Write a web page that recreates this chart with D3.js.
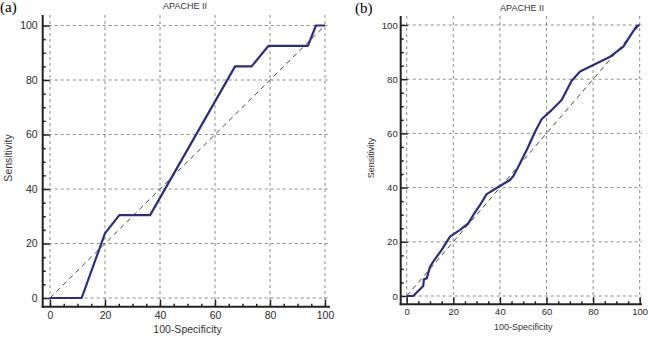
<!DOCTYPE html>
<html>
<head>
<meta charset="utf-8">
<script src="https://cdn.jsdelivr.net/npm/d3@7"></script>
<style>
  body { margin: 0; background: #fff; }
  svg { display: block; }
  .tick text { font-family: "Liberation Sans", Arial, sans-serif; fill: #2a2a2a; }
</style>
</head>
<body>
<div id="chart"></div>
<script>
// ROC curve (a) - APACHE II
const rocAx = [0, 11.5, 20, 25.2, 36.4, 67.3, 73.3, 79.4, 93.8, 96.7, 100];
const rocAy = [0, 0, 23.7, 30.4, 30.4, 85, 85, 92.5, 92.5, 100, 100];

// ROC curve (b) - APACHE II
const rocBx = [0, 2.8, 7.1, 7.4, 8.6, 10, 11.4, 15, 18.6, 22.9, 26.4, 28.6, 31.5, 34.3, 40, 44.3,
               45.8, 47.9, 51.5, 55.1, 57.9, 62.2, 66.5, 70.8, 74.4, 80.1, 87.3, 93, 96.6, 98.7, 100];
const rocBy = [0, 0, 3.7, 6.2, 6.5, 10.8, 12.7, 17, 21.9, 24.4, 26.8, 29.9, 33.6, 37.6, 40.6, 42.8,
               44.3, 47.7, 53.9, 60.6, 65.2, 68.6, 72.3, 79.4, 82.8, 85.2, 88.3, 92, 96.9, 99.6, 100];

const majorTicks = [0, 20, 40, 60, 80, 100];
const minorTicks = d3.range(0, 101, 5).filter(v => v % 20 !== 0);

const W = 648, H = 338;
const sans = "'Liberation Sans', Arial, sans-serif";

const svg = d3.select("#chart").append("svg")
  .attr("width", W)
  .attr("height", H);

const panels = [
  { tag: "(a)", xs: rocAx, ys: rocAy,
    xr: [50, 325], yr: [298, 25.5], axX: 42.7, axY: 306.7, xEnd: 330, yTop: 15,
    font: 10.5, pad: 5, padB: 5, titleX: 185, titleY: 8.5, tagX: 0, tagY: 12,
    ylabX: 12, xlabY: 333, labFont: 10.5 },
  { tag: "(b)", xs: rocBx, ys: rocBy,
    xr: [406.7, 639.7], yr: [296, 25], axX: 400.7, axY: 304.3, xEnd: 642, yTop: 16,
    font: 9.5, pad: 3, padB: 4, titleX: 522, titleY: 10.5, tagX: 355, tagY: 13,
    ylabX: 374, xlabY: 330, labFont: 9 }
];

panels.forEach(p => drawPanel(p));

function drawPanel(p) {
  const x = d3.scaleLinear().domain([0, 100]).range(p.xr);
  const y = d3.scaleLinear().domain([0, 100]).range(p.yr);
  const g = svg.append("g");

  // grid
  g.append("g").selectAll("line")
    .data(majorTicks).enter().append("line")
    .attr("x1", d => x(d)).attr("x2", d => x(d))
    .attr("y1", p.yTop).attr("y2", p.axY)
    .attr("stroke", "#8c8c8c").attr("stroke-width", 1)
    .attr("stroke-dasharray", "3,3");
  g.append("g").selectAll("line")
    .data(majorTicks).enter().append("line")
    .attr("x1", p.axX).attr("x2", p.xEnd)
    .attr("y1", d => y(d)).attr("y2", d => y(d))
    .attr("stroke", "#8c8c8c").attr("stroke-width", 1)
    .attr("stroke-dasharray", "3,3");

  // diagonal
  g.append("line")
    .attr("x1", x(0)).attr("y1", y(0))
    .attr("x2", x(100)).attr("y2", y(100))
    .attr("stroke", "#444").attr("stroke-width", 1)
    .attr("stroke-dasharray", "5,4");

  // curve
  const pts = p.xs.map((v, i) => [v, p.ys[i]]);
  g.append("path")
    .datum(pts)
    .attr("fill", "none")
    .attr("stroke", "#2c2c88")
    .attr("stroke-width", 2.2)
    .attr("stroke-linejoin", "round")
    .attr("d", d3.line().x(d => x(d[0])).y(d => y(d[1])));

  // axes
  const yAx = g.append("g").attr("transform", "translate(" + p.axX + ",0)");
  yAx.call(d3.axisLeft(y).tickValues(majorTicks).tickSize(-7).tickSizeOuter(0).tickPadding(p.pad));
  yAx.append("g").call(d3.axisLeft(y).tickValues(minorTicks).tickSize(-3).tickSizeOuter(0).tickFormat(""));
  const xAx = g.append("g").attr("transform", "translate(0," + p.axY + ")");
  xAx.call(d3.axisBottom(x).tickValues(majorTicks).tickSize(-7).tickSizeOuter(0).tickPadding(p.padB));
  xAx.append("g").call(d3.axisBottom(x).tickValues(minorTicks).tickSize(-3).tickSizeOuter(0).tickFormat(""));
  g.selectAll(".domain").remove();
  g.selectAll(".tick line").attr("stroke", "#222").attr("stroke-width", 1.5);
  g.selectAll(".tick text").attr("font-size", p.font);

  g.append("line")
    .attr("x1", p.axX).attr("x2", p.axX)
    .attr("y1", p.yTop).attr("y2", p.axY + 1)
    .attr("stroke", "#222").attr("stroke-width", 2);
  g.append("line")
    .attr("x1", p.axX - 1).attr("x2", p.xEnd)
    .attr("y1", p.axY).attr("y2", p.axY)
    .attr("stroke", "#222").attr("stroke-width", 2);

  // labels
  g.append("text")
    .attr("x", p.titleX).attr("y", p.titleY)
    .attr("text-anchor", "middle")
    .attr("font-family", sans)
    .attr("font-size", 9).attr("fill", "#333")
    .text("APACHE II");
  g.append("text")
    .attr("x", p.tagX).attr("y", p.tagY)
    .attr("font-family", "'Liberation Serif', 'Times New Roman', serif")
    .attr("font-size", 15).attr("fill", "#000")
    .text(p.tag);
  g.append("text")
    .attr("transform", "translate(" + p.ylabX + ",158) rotate(-90)")
    .attr("text-anchor", "middle")
    .attr("font-family", sans)
    .attr("font-size", p.labFont).attr("fill", "#333")
    .text("Sensitivity");
  g.append("text")
    .attr("x", (p.xr[0] + p.xr[1]) / 2).attr("y", p.xlabY)
    .attr("text-anchor", "middle")
    .attr("font-family", sans)
    .attr("font-size", p.labFont).attr("fill", "#333")
    .text("100-Specificity");
}
</script>
</body>
</html>
